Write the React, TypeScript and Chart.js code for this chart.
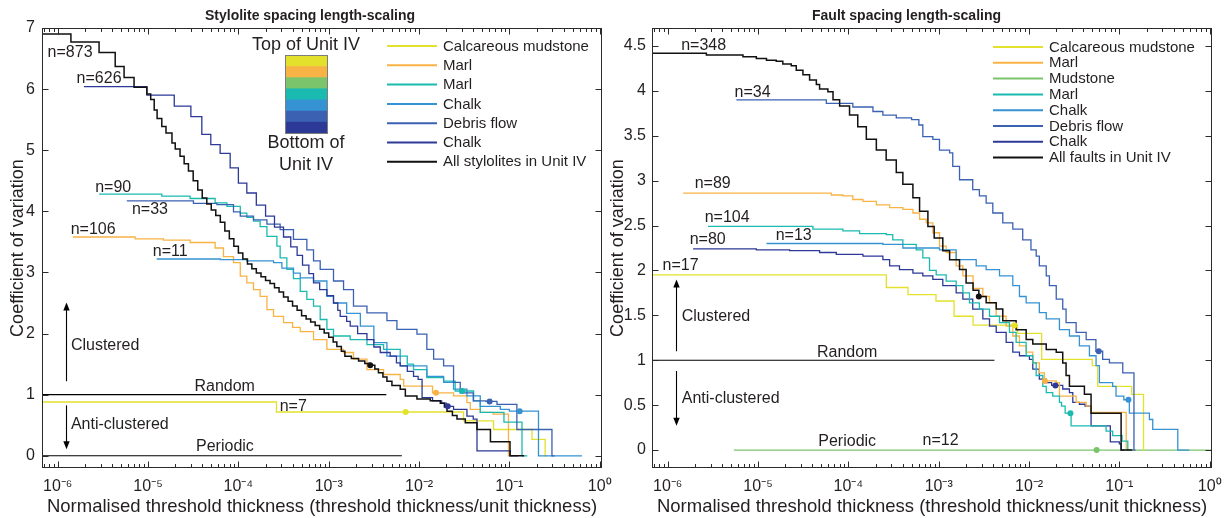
import React, { useEffect, useRef } from 'react';
import { Chart, registerables } from 'chart.js';

Chart.register(...registerables);

type Pt = [number, number];

// ---------------- axis ranges ----------------
const X_MIN = 6.7e-7;
const X_MAX = 1.06;

// ---------------- Stylolites (left panel) ----------------
const styAll: Pt[] = [
  [6.7e-7, 6.9], [1.4e-6, 6.77], [2.87e-6, 6.6], [4.33e-6, 6.37], [5.43e-6, 6.19], [7.0e-6, 6.03],
  [9.7e-6, 5.92], [1.07e-5, 5.83], [1.17e-5, 5.66], [1.26e-5, 5.52], [1.42e-5, 5.39], [1.58e-5, 5.28],
  [1.84e-5, 5.12], [2.0e-5, 5.02], [2.26e-5, 4.9], [2.51e-5, 4.78], [2.8e-5, 4.66], [3.16e-5, 4.5],
  [3.55e-5, 4.35], [3.98e-5, 4.22], [4.47e-5, 4.12], [5.01e-5, 4.02], [5.62e-5, 3.93], [6.31e-5, 3.82],
  [7.08e-5, 3.68], [7.94e-5, 3.55], [8.91e-5, 3.43], [1.0e-4, 3.32], [1.12e-4, 3.22], [1.26e-4, 3.14],
  [1.41e-4, 3.06], [1.58e-4, 2.99], [1.78e-4, 2.93], [2.0e-4, 2.87], [2.24e-4, 2.82], [2.51e-4, 2.75],
  [2.82e-4, 2.68], [3.16e-4, 2.6], [3.55e-4, 2.53], [3.98e-4, 2.45], [4.47e-4, 2.38], [5.01e-4, 2.29],
  [5.62e-4, 2.24], [6.31e-4, 2.19], [7.08e-4, 2.13], [7.94e-4, 2.07], [8.91e-4, 2.01], [1.0e-3, 1.94],
  [1.12e-3, 1.86], [1.23e-3, 1.79], [1.38e-3, 1.71], [1.51e-3, 1.63], [1.78e-3, 1.59], [2.14e-3, 1.55],
  [2.51e-3, 1.51], [2.88e-3, 1.48], [3.24e-3, 1.42], [3.55e-3, 1.36], [3.98e-3, 1.29], [4.41e-3, 1.22],
  [5.01e-3, 1.15], [6.19e-3, 1.09], [7.05e-3, 0.98], [9.48e-3, 0.93], [1.33e-2, 0.9], [1.72e-2, 0.86],
  [1.91e-2, 0.8], [2.04e-2, 0.73], [2.34e-2, 0.66], [2.63e-2, 0.6], [3.25e-2, 0.54], [4.38e-2, 0.43],
  [6.17e-2, 0.23], [0.1016, 0], [0.146, 0],
];
const styChalkLow: Pt[] = [
  [1.95e-6, 6.04], [9.7e-6, 5.9], [1.95e-5, 5.72], [2.98e-5, 5.55], [3.94e-5, 5.26], [4.95e-5, 5.09],
  [6.28e-5, 4.95], [8.11e-5, 4.71], [1.0e-4, 4.46], [1.24e-4, 4.3], [1.58e-4, 4.1], [2.0e-4, 3.92],
  [2.51e-4, 3.74], [3.16e-4, 3.58], [3.8e-4, 3.42], [4.47e-4, 3.28], [5.13e-4, 3.12], [6.03e-4, 2.98],
  [6.79e-4, 2.83], [7.94e-4, 2.72], [9.55e-4, 2.62], [1.13e-3, 2.5], [1.26e-3, 2.38], [1.34e-3, 2.28],
  [1.58e-3, 2.2], [1.73e-3, 2.12], [2.09e-3, 2.0], [2.65e-3, 1.9], [3.16e-3, 1.78], [3.72e-3, 1.69],
  [4.79e-3, 1.63], [5.62e-3, 1.52], [6.19e-3, 1.47], [7.41e-3, 1.38], [8.69e-3, 1.3], [9.77e-3, 1.25],
  [1.08e-2, 0.95], [1.41e-2, 0.9], [1.78e-2, 0.86], [2.0e-2, 0.81], [2.41e-2, 0.76], [3.39e-2, 0.65],
  [3.98e-2, 0.6], [4.38e-2, 0.08], [0.102, 0], [0.126, 0],
];
const styDebris: Pt[] = [
  [5.82e-6, 4.17], [3.18e-5, 4.13], [5.78e-5, 4.11], [8.83e-5, 3.99], [1.05e-4, 3.92], [1.47e-4, 3.86],
  [2.07e-4, 3.79], [2.9e-4, 3.7], [4.07e-4, 3.54], [5.73e-4, 3.37], [6.79e-4, 3.19], [8.05e-4, 3.05],
  [1.13e-3, 2.86], [1.46e-3, 2.72], [1.88e-3, 2.45], [2.65e-3, 2.34], [4.41e-3, 2.21], [5.69e-3, 2.07],
  [9.48e-3, 1.99], [1.22e-2, 1.74], [1.45e-2, 1.58], [1.87e-2, 1.47], [2.41e-2, 1.2], [2.86e-2, 1.03],
  [3.98e-2, 0.9], [5.5e-2, 0.89], [7.29e-2, 0.84], [0.121, 0.43], [0.296, 0], [0.316, 0],
];
const styChalkUp: Pt[] = [
  [1.25e-5, 3.22], [6.31e-5, 3.21], [1.24e-4, 3.19], [2.45e-4, 3.16], [3.03e-4, 3.07], [4.07e-4, 2.99],
  [4.84e-4, 2.91], [6.79e-4, 2.86], [9.55e-4, 2.61], [1.13e-3, 2.5], [1.58e-3, 2.33], [2.24e-3, 2.12],
  [3.16e-3, 1.85], [4.41e-3, 1.63], [6.19e-3, 1.47], [1.22e-2, 1.3], [1.87e-2, 1.2], [2.41e-2, 1.09],
  [3.39e-2, 0.98], [4.76e-2, 0.81], [7.94e-2, 0.76], [0.1, 0.73], [0.21, 0], [0.637, 0],
];
const styMarlLow: Pt[] = [
  [2.87e-6, 4.28], [1.42e-5, 4.25], [2.92e-5, 4.21], [5.53e-5, 4.14], [7.46e-5, 4.08], [1.05e-4, 3.97],
  [1.24e-4, 3.9], [1.47e-4, 3.84], [1.74e-4, 3.75], [2.07e-4, 3.59], [2.67e-4, 3.43], [2.9e-4, 3.24],
  [3.44e-4, 3.05], [4.07e-4, 2.9], [4.84e-4, 2.69], [5.73e-4, 2.56], [6.79e-4, 2.45], [8.05e-4, 2.23],
  [9.55e-4, 2.07], [1.13e-3, 1.96], [1.73e-3, 1.9], [2.65e-3, 1.82], [4.05e-3, 1.74], [6.19e-3, 1.63],
  [7.41e-3, 1.5], [8.69e-3, 1.41], [1.22e-2, 1.28], [1.87e-2, 1.22], [2.51e-2, 1.06], [4.02e-2, 0.9],
  [4.76e-2, 0.71], [8.71e-2, 0.55], [0.138, 0], [0.158, 0],
];
const styMarlUp: Pt[] = [
  [1.47e-6, 3.58], [7.19e-6, 3.55], [1.48e-5, 3.53], [2.92e-5, 3.49], [5.53e-5, 3.4], [6.84e-5, 3.26],
  [8.83e-5, 3.16], [1.05e-4, 2.94], [1.24e-4, 2.83], [1.47e-4, 2.72], [1.74e-4, 2.61], [2.07e-4, 2.39],
  [2.45e-4, 2.28], [3.16e-4, 2.18], [3.98e-4, 2.1], [4.84e-4, 2.03], [6.79e-4, 1.9], [9.55e-4, 1.74],
  [1.46e-3, 1.69], [1.88e-3, 1.58], [2.65e-3, 1.41], [4.05e-3, 1.33], [6.19e-3, 1.25], [6.76e-3, 1.14],
  [1.41e-2, 1.03], [2.41e-2, 0.98], [3.39e-2, 0.87], [3.69e-2, 0.76], [4.76e-2, 0.71], [6.61e-2, 0.68],
  [9.77e-2, 0], [0.102, 0],
];
const styCalc: Pt[] = [
  [6.7e-7, 0.88], [2.64e-4, 0.716], [3.11e-2, 0.57], [6.68e-2, 0.43], [0.178, 0.27], [0.249, 0], [0.26, 0],
];
const styRandom: Pt[] = [[6.7e-7, 1], [4.34e-3, 1]];
const styPeriodic: Pt[] = [[6.7e-7, 0], [6.45e-3, 0]];
// marker points: all, calc, marlUp, chalkLow, marlLow, debris, chalkUp
const styMarks: Pt[] = [
  [2.88e-3, 1.48], [7.1e-3, 0.716], [1.54e-2, 1.03], [2.08e-2, 0.81], [2.99e-2, 1.06], [6.04e-2, 0.89], [0.13, 0.73],
];
const styN: [string, number, number][] = [
  ['n=873', 1.37e-6, 6.59], ['n=626', 2.87e-6, 6.17], ['n=90', 4.11e-6, 4.39], ['n=33', 1.05e-5, 4.03],
  ['n=106', 2.47e-6, 3.7], ['n=11', 1.76e-5, 3.34], ['n=7', 4.05e-4, 0.81],
];

// ---------------- Faults (right panel) ----------------
const fltAll: Pt[] = [
  [6.7e-7, 4.42], [2.68e-6, 4.4], [6.81e-6, 4.38], [9.57e-6, 4.36], [1.24e-5, 4.34], [1.59e-5, 4.33],
  [1.88e-5, 4.3], [2.33e-5, 4.28], [2.65e-5, 4.23], [3.14e-5, 4.18], [3.72e-5, 4.12], [4.42e-5, 4.07],
  [4.8e-5, 4.02], [5.93e-5, 3.99], [6.76e-5, 3.9], [8.0e-5, 3.83], [1.03e-4, 3.73], [1.27e-4, 3.6],
  [1.58e-4, 3.46], [2.04e-4, 3.34], [2.62e-4, 3.23], [3.39e-4, 3.09], [4.01e-4, 2.96], [5.18e-4, 2.81],
  [6.14e-4, 2.66], [7.59e-4, 2.49], [8.91e-4, 2.36], [1.11e-3, 2.22], [1.32e-3, 2.12], [1.7e-3, 2.01],
  [2.01e-3, 1.86], [2.4e-3, 1.78], [2.78e-3, 1.71], [3.35e-3, 1.64], [4.33e-3, 1.57], [5.12e-3, 1.44],
  [7.19e-3, 1.34], [9.29e-3, 1.23], [1.1e-2, 1.18], [1.55e-2, 1.12], [2.0e-2, 1.09], [2.36e-2, 0.97],
  [2.57e-2, 0.83], [2.8e-2, 0.71], [4.1e-2, 0.62], [4.86e-2, 0.41], [0.1045, 0], [0.14, 0],
];
const fltDebris: Pt[] = [
  [5.75e-6, 3.9], [5.7e-5, 3.86], [1.12e-4, 3.82], [1.87e-4, 3.77], [2.41e-4, 3.73], [3.39e-4, 3.7],
  [5.01e-4, 3.68], [6.03e-4, 3.62], [6.67e-4, 3.49], [8.61e-4, 3.46], [1.02e-3, 3.34], [1.32e-3, 3.31],
  [1.43e-3, 3.16], [1.7e-3, 3.01], [2.38e-3, 2.9], [2.82e-3, 2.83], [3.35e-3, 2.75], [3.97e-3, 2.64],
  [5.12e-3, 2.53], [6.61e-3, 2.46], [8.51e-3, 2.34], [1.05e-2, 2.23], [1.2e-2, 2.16], [1.3e-2, 2.05],
  [1.55e-2, 1.94], [1.68e-2, 1.83], [2.0e-2, 1.68], [2.36e-2, 1.57], [2.57e-2, 1.42], [3.32e-2, 1.31],
  [4.29e-2, 1.23], [5.5e-2, 1.1], [6.53e-2, 1.01], [7.76e-2, 0.97], [0.109, 0.86], [0.145, 0], [0.151, 0],
];
const fltChalkUp: Pt[] = [
  [1.24e-5, 2.3], [2.41e-4, 2.29], [4.01e-4, 2.25], [1.02e-3, 2.23], [1.56e-3, 2.12], [2.6e-3, 2.05],
  [3.35e-3, 2.01], [4.71e-3, 1.94], [6.61e-3, 1.83], [7.83e-3, 1.71], [9.29e-3, 1.64], [1.3e-2, 1.53],
  [1.55e-2, 1.46], [2.17e-2, 1.34], [2.8e-2, 1.27], [3.61e-2, 1.16], [4.66e-2, 1.05], [5.52e-2, 0.94],
  [6.01e-2, 0.75], [8.43e-2, 0.71], [9.18e-2, 0.6], [0.112, 0.56], [0.129, 0.41], [0.215, 0.34],
  [0.234, 0.23], [0.443, 0], [0.594, 0],
];
const fltMarlLow: Pt[] = [
  [2.79e-6, 2.49], [4.05e-5, 2.46], [8.69e-5, 2.44], [1.33e-4, 2.41], [2.63e-4, 2.4], [3.1e-4, 2.34],
  [4.01e-4, 2.29], [5.64e-4, 2.23], [6.67e-4, 2.14], [7.91e-4, 2.0], [9.38e-4, 1.95], [1.21e-3, 1.88],
  [1.56e-3, 1.83], [1.85e-3, 1.75], [2.19e-3, 1.64], [2.82e-3, 1.57], [3.65e-3, 1.49], [4.71e-3, 1.42],
  [6.07e-3, 1.31], [7.19e-3, 1.2], [9.29e-3, 1.05], [1.1e-2, 0.97], [1.2e-2, 0.83], [1.42e-2, 0.71],
  [1.55e-2, 0.64], [1.83e-2, 0.6], [2.17e-2, 0.53], [2.29e-2, 0.49], [2.51e-2, 0.41], [2.92e-2, 0.27],
  [7.13e-2, 0.21], [8.43e-2, 0.16], [0.107, 0.1], [0.124, 0], [0.132, 0],
];
const fltMarlUp: Pt[] = [
  [1.48e-6, 2.86], [6.47e-5, 2.84], [8.69e-5, 2.83], [1.12e-4, 2.79], [1.45e-4, 2.77], [2.04e-4, 2.73],
  [2.86e-4, 2.7], [4.01e-4, 2.68], [5.18e-4, 2.64], [6.14e-4, 2.57], [7.28e-4, 2.53], [8.61e-4, 2.42],
  [1.02e-3, 2.27], [1.21e-3, 2.2], [1.56e-3, 2.05], [1.85e-3, 1.94], [2.4e-3, 1.8], [3.08e-3, 1.71],
  [3.65e-3, 1.64], [4.33e-3, 1.49], [5.58e-3, 1.38], [6.61e-3, 1.27], [7.83e-3, 1.16], [9.29e-3, 1.09],
  [1.1e-2, 0.97], [1.3e-2, 0.86], [1.48e-2, 0.77], [2.0e-2, 0.75], [2.17e-2, 0.6], [3.32e-2, 0.53],
  [4.29e-2, 0.49], [4.86e-2, 0.42], [0.119, 0], [0.135, 0],
];
const fltChalkLow: Pt[] = [
  [1.91e-6, 2.24], [9.57e-6, 2.23], [2.24e-5, 2.22], [4.8e-5, 2.2], [7.35e-5, 2.18], [1.45e-4, 2.16],
  [2.41e-4, 2.12], [2.86e-4, 2.05], [3.68e-4, 2.01], [5.18e-4, 1.97], [6.67e-4, 1.94], [8.61e-4, 1.9],
  [1.11e-3, 1.83], [1.56e-3, 1.75], [1.85e-3, 1.68], [2.38e-3, 1.57], [3.08e-3, 1.46], [3.65e-3, 1.38],
  [4.33e-3, 1.31], [5.58e-3, 1.2], [6.61e-3, 1.09], [7.83e-3, 1.05], [1.01e-2, 1.01], [1.1e-2, 0.9],
  [1.3e-2, 0.79], [1.55e-2, 0.75], [1.78e-2, 0.72], [2.36e-2, 0.68], [2.8e-2, 0.64], [3.05e-2, 0.53],
  [3.61e-2, 0.51], [4.17e-2, 0.49], [4.86e-2, 0.27], [7.94e-2, 0.09], [0.1, 0.07], [0.1045, 0], [0.112, 0],
];
const fltCalc: Pt[] = [
  [6.7e-7, 1.95], [2.63e-4, 1.81], [4.57e-4, 1.73], [9.33e-4, 1.66], [1.48e-3, 1.49], [2.4e-3, 1.39],
  [7.45e-3, 1.3], [1.38e-2, 1.01], [5.01e-2, 0.94], [5.75e-2, 0.71], [0.137, 0.62], [0.185, 0], [0.19, 0],
];
const fltMud: Pt[] = [[5.4e-6, 0], [1.06, 0]];
const fltRandom: Pt[] = [[6.7e-7, 1], [4.14e-3, 1]];
// marker points: all, calc, marlUp, chalkLow, marlLow, debris, chalkUp, mudstone
const fltMarks: Pt[] = [
  [2.78e-3, 1.71], [6.9e-3, 1.39], [1.5e-2, 0.77], [1.96e-2, 0.72], [2.87e-2, 0.41], [5.9e-2, 1.1], [0.126, 0.56], [5.6e-2, 0],
];
const fltN: [string, number, number][] = [
  ['n=348', 2.5e-6, 4.5], ['n=34', 8.71e-6, 3.98], ['n=89', 3.15e-6, 2.97], ['n=104', 4.55e-6, 2.59],
  ['n=80', 2.77e-6, 2.34], ['n=13', 2.48e-5, 2.39], ['n=17', 1.39e-6, 2.05], ['n=12', 1.05e-3, 0.1],
];

// ---------------- style ----------------
const INK = '#231f20';
const AXIS = '#2b2b2b';
const FONT = '"Liberation Sans", Arial, Helvetica, sans-serif';
const COL = {
  yellow: '#e3e12c',
  orange: '#f8b345',
  green: '#7bc46b',
  teal: '#1bbab0',
  light: '#3592d3',
  mid: '#3b61b2',
  navy: '#2c3997',
  black: '#111111',
};

const SUP: Record<string, string> = {
  '-': '\u207B', '0': '\u2070', '1': '\u00B9', '2': '\u00B2', '3': '\u00B3', '4': '\u2074',
  '5': '\u2075', '6': '\u2076', '7': '\u2077', '8': '\u2078', '9': '\u2079',
};
function powLabel(v: number): string {
  const e = Math.log10(v);
  const r = Math.round(e);
  if (Math.abs(e - r) > 1e-6) return '';
  return '10' + String(r).split('').map((c) => SUP[c]).join('');
}
const plainLabel = (v: number) => String(Math.round(v * 100) / 100);

const toXY = (pts: Pt[]) => pts.map(([x, y]) => ({ x, y }));
const stepDs = (label: string, pts: Pt[], color: string, width = 1.3) => ({
  label,
  data: toXY(pts),
  borderColor: color,
  backgroundColor: color,
  borderWidth: width,
  pointRadius: 0,
  pointHoverRadius: 0,
  stepped: 'before',
  fill: false,
});
const refDs = (label: string, pts: Pt[]) => ({
  label,
  data: toXY(pts),
  borderColor: '#000',
  backgroundColor: '#000',
  borderWidth: 1.1,
  pointRadius: 0,
  fill: false,
});
const markDs = (pt: Pt, color: string) => ({
  label: 'marker',
  data: toXY([pt]),
  showLine: false,
  pointRadius: 3,
  pointBackgroundColor: color,
  pointBorderColor: color,
  pointBorderWidth: 0,
  borderColor: color,
});

interface PanelCfg {
  canvasLeft: number;
  canvasWidth: number;
  padRight: number;
  yWidth: number;
  yTickPad: number;
  yTitlePad: number;
  yMax: number;
  yStep: number;
  title: string;
  titleX: number;
  datasets: any[];
  legend: [string, string][];
  legendX: number;
  legendY: number;
  legendStep: number;
  nLabels: [string, number, number][];
  notes: [string, number, number, CanvasTextAlign][];
  arrows: [number, number, number][];
  colorbar?: { x: number; y: number; w: number; h: number; colors: string[] };
}

const LEFT: PanelCfg = {
  canvasLeft: 0,
  canvasWidth: 614,
  padRight: 12,
  yWidth: 42,
  yTickPad: 7,
  yTitlePad: 7.5,
  yMax: 7,
  yStep: 1,
  title: 'Stylolite spacing length-scaling',
  titleX: 310,
  datasets: [
    markDs(styMarks[0], COL.black),
    markDs(styMarks[1], COL.yellow),
    markDs(styMarks[2], COL.orange),
    markDs(styMarks[3], COL.navy),
    markDs(styMarks[4], COL.teal),
    markDs(styMarks[5], COL.mid),
    markDs(styMarks[6], COL.light),
    stepDs('All stylolites in Unit IV', styAll, COL.black, 1.5),
    stepDs('Chalk (bottom)', styChalkLow, COL.navy),
    stepDs('Debris flow', styDebris, COL.mid),
    stepDs('Chalk', styChalkUp, COL.light),
    stepDs('Marl (lower)', styMarlLow, COL.teal),
    stepDs('Marl', styMarlUp, COL.orange),
    stepDs('Calcareous mudstone', styCalc, COL.yellow),
    refDs('Random', styRandom),
    refDs('Periodic', styPeriodic),
  ],
  legend: [
    ['Calcareous mudstone', COL.yellow],
    ['Marl', COL.orange],
    ['Marl', COL.teal],
    ['Chalk', COL.light],
    ['Debris flow', COL.mid],
    ['Chalk', COL.navy],
    ['All stylolites in Unit IV', COL.black],
  ],
  legendX: 387,
  legendY: 46,
  legendStep: 19.3,
  nLabels: styN,
  notes: [
    ['Random', 7.05e-5, 1.14, 'center'],
    ['Periodic', 7.1e-5, 0.155, 'center'],
    ['Clustered', 1.4e-6, 1.81, 'left'],
    ['Anti-clustered', 1.4e-6, 0.51, 'left'],
  ],
  arrows: [
    [1.22e-6, 1.22, 2.51],
    [1.22e-6, 0.825, 0.106],
  ],
  colorbar: {
    x: 285, y: 55, w: 42, h: 78,
    colors: [COL.yellow, COL.orange, COL.green, COL.teal, COL.light, COL.mid, COL.navy],
  },
};

const RIGHT: PanelCfg = {
  canvasLeft: 604,
  canvasWidth: 624,
  padRight: 16,
  yWidth: 48,
  yTickPad: 6,
  yTitlePad: 3.2,
  yMax: 4.7,
  yStep: 0.5,
  title: 'Fault spacing length-scaling',
  titleX: 302.5,
  datasets: [
    markDs(fltMarks[0], COL.black),
    markDs(fltMarks[1], COL.yellow),
    markDs(fltMarks[2], COL.orange),
    markDs(fltMarks[3], COL.navy),
    markDs(fltMarks[4], COL.teal),
    markDs(fltMarks[5], COL.mid),
    markDs(fltMarks[6], COL.light),
    markDs(fltMarks[7], COL.green),
    stepDs('All faults in Unit IV', fltAll, COL.black, 1.5),
    stepDs('Debris flow', fltDebris, COL.mid),
    stepDs('Chalk', fltChalkUp, COL.light),
    stepDs('Marl (lower)', fltMarlLow, COL.teal),
    stepDs('Marl', fltMarlUp, COL.orange),
    stepDs('Chalk (bottom)', fltChalkLow, COL.navy),
    stepDs('Calcareous mudstone', fltCalc, COL.yellow),
    stepDs('Mudstone', fltMud, COL.green),
    refDs('Random', fltRandom),
  ],
  legend: [
    ['Calcareous mudstone', COL.yellow],
    ['Marl', COL.orange],
    ['Mudstone', COL.green],
    ['Marl', COL.teal],
    ['Chalk', COL.light],
    ['Debris flow', COL.mid],
    ['Chalk', COL.navy],
    ['All faults in Unit IV', COL.black],
  ],
  legendX: 389,
  legendY: 47,
  legendStep: 15.8,
  nLabels: fltN,
  notes: [
    ['Random', 9.7e-5, 1.09, 'center'],
    ['Periodic', 9.7e-5, 0.09, 'center'],
    ['Clustered', 1.43e-6, 1.49, 'left'],
    ['Anti-clustered', 1.43e-6, 0.57, 'left'],
  ],
  arrows: [
    [1.22e-6, 1.1, 1.9],
    [1.22e-6, 0.88, 0.27],
  ],
};

function decorPlugin(p: PanelCfg) {
  return {
    id: 'decor',
    afterDatasetsDraw(chart: any) {
      const { ctx, chartArea: a } = chart;
      const xs = chart.scales.x;
      const ys = chart.scales.y;
      const X = (v: number) => xs.getPixelForValue(v);
      const Y = (v: number) => ys.getPixelForValue(v);
      ctx.save();

      // frame + inward ticks
      const L = Math.round(a.left) + 0.5;
      const R = Math.round(a.right) - 0.5;
      const T = Math.round(a.top) + 0.5;
      const B = Math.round(a.bottom) - 0.5;
      ctx.strokeStyle = AXIS;
      ctx.lineWidth = 1;
      ctx.strokeRect(L, T, R - L, B - T);
      ctx.beginPath();
      for (let e = -7; e <= 0; e++) {
        for (let m = 1; m <= 9; m++) {
          const v = m * Math.pow(10, e);
          if (v < xs.min || v > xs.max) continue;
          const px = Math.round(X(v)) + 0.5;
          const len = m === 1 ? 6 : 3.5;
          ctx.moveTo(px, B);
          ctx.lineTo(px, B - len);
          ctx.moveTo(px, T);
          ctx.lineTo(px, T + len);
        }
      }
      ys.ticks.forEach((t: any) => {
        const py = Math.round(Y(t.value)) + 0.5;
        ctx.moveTo(L, py);
        ctx.lineTo(L + 6, py);
        ctx.moveTo(R, py);
        ctx.lineTo(R - 6, py);
      });
      ctx.stroke();

      // title
      ctx.fillStyle = INK;
      ctx.textBaseline = 'middle';
      ctx.textAlign = 'center';
      ctx.font = `bold 14px ${FONT}`;
      ctx.fillText(p.title, p.titleX, 16);

      // n labels
      ctx.font = `16px ${FONT}`;
      p.nLabels.forEach(([s, x, y]) => ctx.fillText(s, X(x), Y(y)));

      // notes
      p.notes.forEach(([s, x, y, al]) => {
        ctx.textAlign = al;
        ctx.fillText(s, X(x), Y(y));
      });

      // arrows
      ctx.strokeStyle = '#000';
      ctx.fillStyle = '#000';
      ctx.lineWidth = 1.1;
      p.arrows.forEach(([x, y0, y1]) => {
        const px = Math.round(X(x)) + 0.5;
        const a0 = Y(y0);
        const a1 = Y(y1);
        const dir = Math.sign(a1 - a0);
        ctx.beginPath();
        ctx.moveTo(px, a0);
        ctx.lineTo(px, a1 - dir * 5);
        ctx.stroke();
        ctx.beginPath();
        ctx.moveTo(px, a1);
        ctx.lineTo(px - 3.2, a1 - dir * 8);
        ctx.lineTo(px + 3.2, a1 - dir * 8);
        ctx.closePath();
        ctx.fill();
      });

      // legend
      ctx.font = `15px ${FONT}`;
      ctx.textAlign = 'left';
      p.legend.forEach(([name, color], i) => {
        const y = p.legendY + i * p.legendStep;
        ctx.strokeStyle = color;
        ctx.lineWidth = 2;
        ctx.beginPath();
        ctx.moveTo(p.legendX, y);
        ctx.lineTo(p.legendX + 50, y);
        ctx.stroke();
        ctx.fillStyle = INK;
        ctx.fillText(name, p.legendX + 56, y + 0.5);
      });

      // colour bar
      if (p.colorbar) {
        const { x, y, w, h, colors } = p.colorbar;
        const bh = h / colors.length;
        colors.forEach((c, i) => {
          ctx.fillStyle = c;
          ctx.fillRect(x, y + i * bh, w, bh + 0.6);
        });
        ctx.strokeStyle = '#7d7d7d';
        ctx.lineWidth = 1;
        ctx.strokeRect(x + 0.5, y + 0.5, w, h);
        ctx.fillStyle = INK;
        ctx.font = `18px ${FONT}`;
        ctx.textAlign = 'center';
        ctx.fillText('Top of Unit IV', x + w / 2, 45);
        ctx.fillText('Bottom of', x + w / 2, 143.5);
        ctx.fillText('Unit IV', x + w / 2, 165);
      }
      ctx.restore();
    },
  };
}

function buildConfig(p: PanelCfg): any {
  return {
    type: 'line',
    data: { datasets: p.datasets },
    options: {
      animation: false,
      responsive: false,
      devicePixelRatio: 1,
      events: [],
      layout: { padding: { top: 28, right: p.padRight, left: 0, bottom: 0 } },
      plugins: {
        legend: { display: false },
        tooltip: { enabled: false },
        title: { display: false },
      },
      scales: {
        x: {
          type: 'logarithmic',
          position: 'bottom',
          min: X_MIN,
          max: X_MAX,
          grid: { display: false, drawTicks: false },
          border: { display: false },
          ticks: {
            autoSkip: false,
            maxRotation: 0,
            minRotation: 0,
            padding: 9,
            color: INK,
            font: { family: FONT, size: 16 },
            callback: (v: any) => powLabel(Number(v)),
          },
          title: {
            display: true,
            text: 'Normalised threshold thickness (threshold thickness/unit thickness)',
            color: INK,
            font: { family: FONT, size: 18.5, lineHeight: 1.2 },
            padding: { top: 0, bottom: 0 },
          },
          afterFit: (s: any) => {
            s.height = 50;
          },
        },
        y: {
          type: 'linear',
          min: -0.2,
          max: p.yMax,
          grid: { display: false, drawTicks: false },
          border: { display: false },
          ticks: {
            stepSize: p.yStep,
            includeBounds: false,
            padding: p.yTickPad,
            color: INK,
            font: { family: FONT, size: 16 },
            callback: (v: any) => plainLabel(Number(v)),
          },
          title: {
            display: true,
            text: 'Coefficient of variation',
            color: INK,
            font: { family: FONT, size: 18, lineHeight: 1.2 },
            padding: { top: p.yTitlePad, bottom: 0 },
          },
          afterFit: (s: any) => {
            s.width = p.yWidth;
          },
        },
      },
    },
    plugins: [decorPlugin(p)],
  };
}

function Panel({ cfg }: { cfg: PanelCfg }) {
  const ref = useRef<HTMLCanvasElement>(null);
  useEffect(() => {
    if (!ref.current) return;
    const chart = new Chart(ref.current, buildConfig(cfg));
    return () => chart.destroy();
  }, [cfg]);
  return (
    <canvas
      ref={ref}
      width={cfg.canvasWidth}
      height={518}
      style={{ position: 'absolute', left: cfg.canvasLeft, top: 0, width: cfg.canvasWidth, height: 518 }}
    />
  );
}

export default function App() {
  return (
    <div
      style={{
        position: 'fixed',
        left: 0,
        top: 0,
        width: 1228,
        height: 518,
        background: '#ffffff',
        overflow: 'hidden',
      }}
    >
      <Panel cfg={LEFT} />
      <Panel cfg={RIGHT} />
    </div>
  );
}
